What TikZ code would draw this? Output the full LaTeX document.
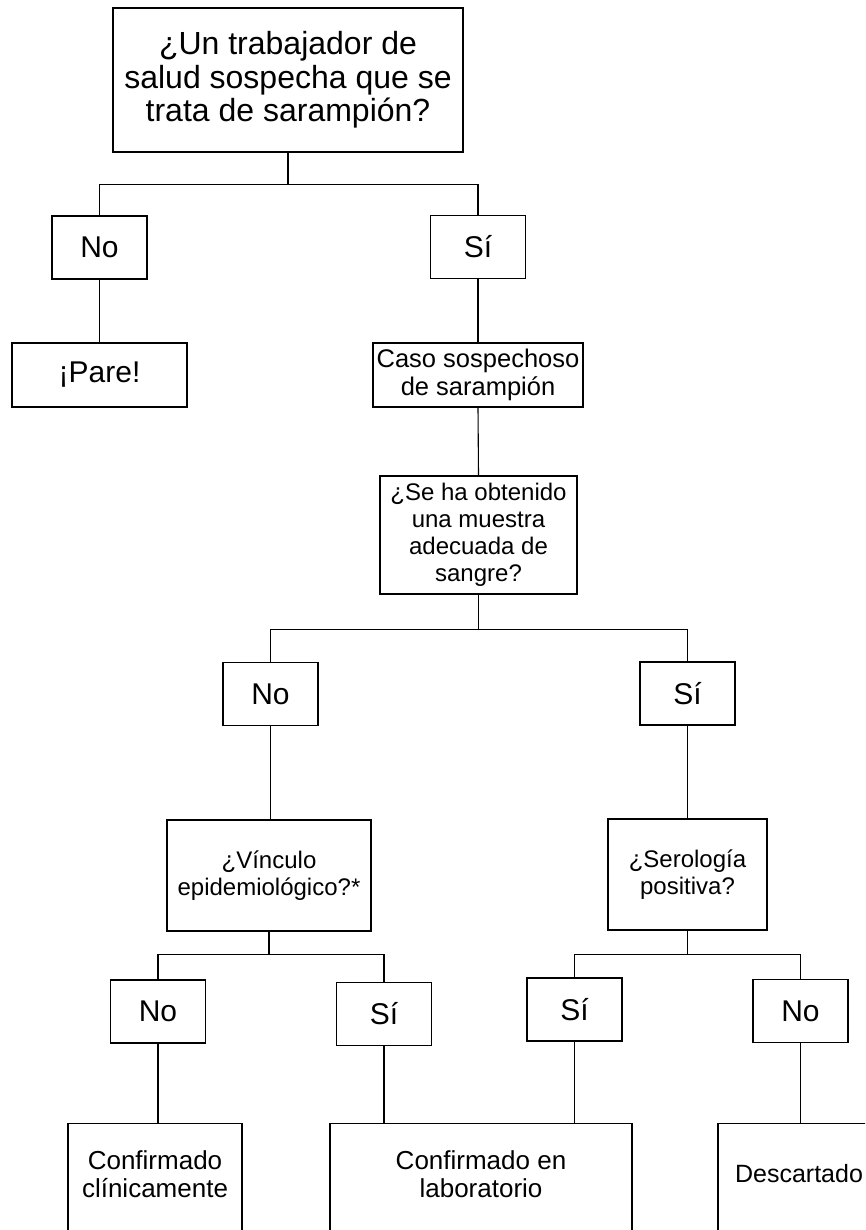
\documentclass[tikz,border=0pt]{standalone}
\usepackage{fontspec}
\setmainfont{Liberation Sans}

\tikzset{
  box/.style={draw, line width=1.1pt, align=center, inner sep=0pt},
  answer/.style={box, minimum width=95pt, minimum height=63pt, font=\fontsize{30}{33}\selectfont},
  question/.style={box, font=\fontsize{24}{27}\selectfont},
  result/.style={box, anchor=north, minimum height=160pt},
  resulttext/.style={align=center, font=\fontsize{26}{28.5}\selectfont},
  link/.style={line width=1.1pt}
}

\begin{document}
\begin{tikzpicture}[x=1pt,y=-1pt]
\useasboundingbox (0,0) rectangle (865,1230);
\clip (0,0) rectangle (865,1230);

\node[box, minimum width=350pt, minimum height=144pt, font=\fontsize{32}{33.5}\selectfont] (sospecha) at (288,80) {¿Un trabajador de\\salud sospecha que se\\trata de sarampión?};

\node[answer] (no1) at (99.5,247.5) {No};
\node[answer] (si1) at (478,247) {Sí};
\node[box, minimum width=175pt, minimum height=64pt, font=\fontsize{30}{33}\selectfont] (pare) at (99.5,375) {¡Pare!};
\node[box, minimum width=210pt, minimum height=64pt, font=\fontsize{25.5}{28}\selectfont] (caso) at (478,375) {Caso sospechoso\\de sarampión};
\node[question, minimum width=197pt, minimum height=118pt] (muestra) at (478.5,535) {¿Se ha obtenido\\una muestra\\adecuada de\\sangre?};

\node[answer] (no2) at (270.5,694) {No};
\node[answer] (si2) at (687.5,693.5) {Sí};
\node[question, minimum width=204pt, minimum height=111pt] (vinculo) at (269,875.5) {¿Vínculo\\epidemiológico?*};
\node[question, minimum width=159pt, minimum height=111pt] (serologia) at (687.5,874.5) {¿Serología\\positiva?};

\node[answer] (no3) at (158,1011.5) {No};
\node[answer] (si3) at (384,1014) {Sí};
\node[answer] (si4) at (574.5,1009.5) {Sí};
\node[answer] (no4) at (800.5,1011) {No};

% result boxes run past the bottom edge
\node[result, minimum width=174pt] (clinico) at (155,1123) {};
\node[result, minimum width=302pt] (lab) at (481,1123) {};
\node[result, minimum width=164pt] (descarte) at (800,1123) {};
\node[resulttext] (clinicotxt) at (155,1174) {Confirmado\\clínicamente};
\node[resulttext] (labtxt) at (481,1174) {Confirmado en\\laboratorio};
\node[resulttext, font=\fontsize{25}{28.5}\selectfont] (descartetxt) at (799,1174) {Descartado};

\draw[link] (sospecha.south) -- ++(0,32) -| (no1.north);
\draw[link] (sospecha.south) -- ++(0,32) -| (si1.north);
\draw[link] (no1.south) -- (pare.north);
\draw[link] (si1.south) -- (caso.north);
\draw[link] (caso.south) -- (muestra.north);

\draw[link] (muestra.south) -- ++(0,35) -| (no2.north);
\draw[link] (muestra.south) -- ++(0,35) -| (si2.north);
\draw[link] (no2.south) -- (no2.south |- vinculo.north);
\draw[link] (si2.south) -- (si2.south |- serologia.north);

\draw[link] (vinculo.south) -- ++(0,23) -| (no3.north);
\draw[link] (vinculo.south) -- ++(0,23) -| (si3.north);
\draw[link] (serologia.south) -- ++(0,24) -| (si4.north);
\draw[link] (serologia.south) -- ++(0,24) -| (no4.north);

\draw[link] (no3.south) -- (no3.south |- clinico.north);
\draw[link] (si3.south) -- (si3.south |- lab.north);
\draw[link] (si4.south) -- (si4.south |- lab.north);
\draw[link] (no4.south) -- (no4.south |- descarte.north);

\end{tikzpicture}
\end{document}
